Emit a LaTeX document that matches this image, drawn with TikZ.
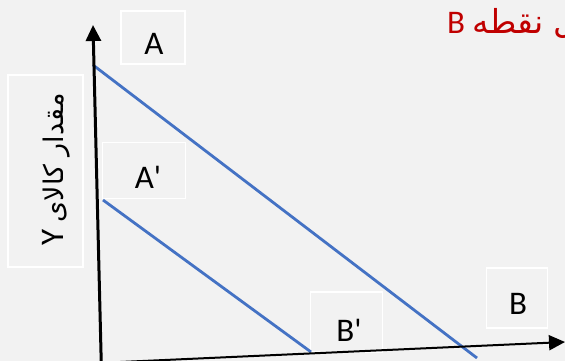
\documentclass[tikz,border=0pt]{standalone}
\usepackage{fontspec}
\setmainfont{Carlito}
\newfontfamily\arabicfont[Script=Arabic]{DejaVu Sans}
\TeXXeTstate=1
\usetikzlibrary{arrows.meta}
\definecolor{bg}{HTML}{F2F2F2}
\definecolor{lineblue}{HTML}{4472C4}
\definecolor{darkred}{HTML}{C00000}
\begin{document}
\begin{tikzpicture}[x=1pt,y=-1pt,
  frame/.style={draw=white, line width=1.5pt, inner sep=0pt},
  lbl/.style={inner sep=0pt, font=\fontsize{33}{40}\selectfont},
  axis/.style={draw=black, -{Triangle[length=16pt,width=15pt]}},
  budget/.style={draw=lineblue, line width=2.8pt}]
\useasboundingbox (0,0) rectangle (565,361);
\fill[bg] (0,0) rectangle (565,361);
\clip (0,0) rectangle (565,361);
% frames
\node[frame, minimum width=64pt, minimum height=53pt] (boxA) at (153,37.3) {};
\node[frame, minimum width=82.6pt, minimum height=55.6pt] (boxAp) at (144,170.5) {};
\node[frame, minimum width=75pt, minimum height=192pt] (boxY) at (45.5,171) {};
\node[frame, minimum width=72pt, minimum height=60pt] (boxBp) at (346.7,322) {};
\node[frame, minimum width=61pt, minimum height=60pt] (boxB) at (517.2,298) {};
% labels
\node[lbl] (tA) at (154,44) {A};
\node[lbl] (tAp) at (148,177) {A\textquotesingle};
\node[lbl] (tBp) at (349,330) {B\textquotesingle};
\node[lbl] (tB) at (518,304) {B};
\node[lbl, rotate=90, anchor=base west] (tY) at (63,246) {\beginR{\arabicfont\fontsize{27}{32}\selectfont مقدار کالای} Y\endR};
\node[lbl, text=darkred, anchor=base west] (tRed) at (447,34) {\beginR{\arabicfont مثل نقطه} B\endR};
% budget lines
\coordinate (a1) at (93,65);
\coordinate (b1) at (477,358);
\coordinate (a2) at (103,200);
\coordinate (b2) at (311,352);
\draw[budget] (a1) -- (b1);
\draw[budget] (a2) -- (b2);
% axes
\coordinate (oy) at (101.3,365);
\coordinate (ytip) at (93,25);
\coordinate (ox) at (98,363);
\coordinate (xtip) at (565,342);
\draw[axis, line width=3pt] (oy) -- (ytip);
\draw[axis, line width=2pt] (ox) -- (xtip);
\end{tikzpicture}
\end{document}
